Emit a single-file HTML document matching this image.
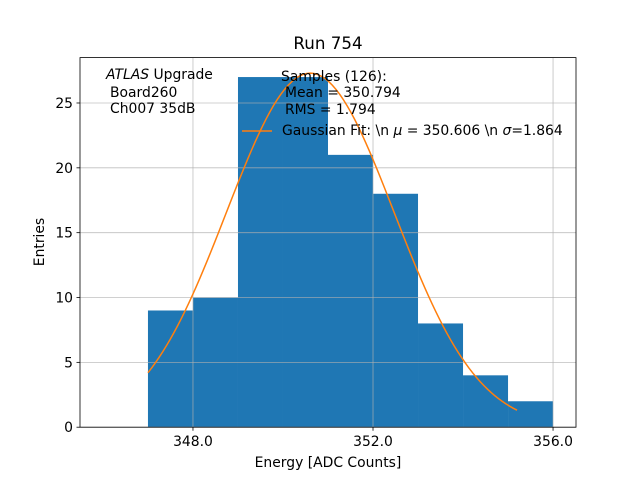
<!DOCTYPE html>
<html><head><meta charset="utf-8"><style>
body{margin:0;background:#fff}
svg{font-family:"DejaVu Sans","Liberation Sans",sans-serif;}
</style></head><body>
<svg id="c" width="640" height="480" viewBox="0 0 640 480">
<rect width="640" height="480" fill="#fff"/>
<g id="bars"></g><g id="grid"></g><g id="fit"></g><g id="axes"></g>
<text x="328" y="49" font-size="16.7" text-anchor="middle">Run 754</text>
<text x="328" y="467" font-size="13.9" text-anchor="middle">Energy [ADC Counts]</text>
<text transform="translate(44,242) rotate(-90)" font-size="13.9" text-anchor="middle">Entries</text>
<g font-size="13.9">
<text x="106" y="79"><tspan font-style="italic">ATLAS</tspan> Upgrade</text>
<text x="110" y="97">Board260</text>
<text x="110" y="113">Ch007 35dB</text>
</g>
<g font-size="13.9">
<text x="281" y="81">Samples (126):</text>
<text x="285" y="97">Mean = 350.794</text>
<text x="285" y="114">RMS = 1.794</text>
<line x1="242" y1="131" x2="272" y2="131" stroke="#ff7f0e" stroke-width="1.5"/>
<text x="282" y="135">Gaussian Fit: \n <tspan font-style="italic">μ</tspan> = 350.606 \n <tspan font-style="italic">σ</tspan>=1.864</text>
</g>
</svg>
<script>
const binEdges=[347,348,349,350,351,352,353,354,355];
const counts=[9,10,27,27,21,18,8,4,2];
const xTicks=[348,352,356];
const xTickLabels=["348.0","352.0","356.0"];
const yTicks=[0,5,10,15,20,25];
const fitMu=[350.606];
const fitSigma=[1.864];
const fitAmp=[27.3];
const fitRange=[347,355.2];

const L=80,R=576,T=57.6,B=427.2;
const xmin=345.49,xmax=356.51,ymin=0,ymax=28.5;
const X=v=>L+(v-xmin)/(xmax-xmin)*(R-L);
const Y=v=>B-(v-ymin)/(ymax-ymin)*(B-T);
const NS="http://www.w3.org/2000/svg";
function mk(t,a,p){const e=document.createElementNS(NS,t);for(const k in a)e.setAttribute(k,a[k]);p.appendChild(e);return e;}
const gb=document.getElementById('bars');
counts.forEach((c,i)=>{
 const r=mk('rect',{x:X(binEdges[i]),y:Y(c),width:X(binEdges[i]+1)-X(binEdges[i]),height:Y(0)-Y(c),fill:'#1f77b4'},gb);
 
 
});
const gg=document.getElementById('grid');
xTicks.forEach(t=>{const l=mk('line',{x1:X(t),x2:X(t),y1:T,y2:B,stroke:'#b0b0b0','stroke-width':0.8,opacity:0.8},gg);
 
 });
yTicks.forEach(t=>{const l=mk('line',{x1:L,x2:R,y1:Y(t),y2:Y(t),stroke:'#b0b0b0','stroke-width':0.8,opacity:0.8},gg);
 
 });
const gf=document.getElementById('fit');
let pts=[];
for(let i=0;i<=100;i++){const x=fitRange[0]+(fitRange[1]-fitRange[0])*i/100;
 const y=fitAmp[0]*Math.exp(-Math.pow(x-fitMu[0],2)/(2*fitSigma[0]*fitSigma[0]));
 pts.push(X(x).toFixed(2)+','+Y(y).toFixed(2));}
const pl=mk('polyline',{points:pts.join(' '),fill:'none',stroke:'#ff7f0e','stroke-width':1.5},gf);


const ga=document.getElementById('axes');
const fr=mk('rect',{x:L,y:T,width:R-L,height:B-T,fill:'none',stroke:'#000','stroke-width':0.8},ga);


xTicks.forEach((t,i)=>{mk('line',{x1:X(t),x2:X(t),y1:B,y2:B+3.5,stroke:'#000','stroke-width':0.8},ga);
 const tx=mk('text',{x:X(t),y:B+19,'font-size':13.9,'text-anchor':'middle'},ga);tx.textContent=xTickLabels[i];
 
 });
yTicks.forEach(t=>{mk('line',{x1:L-3.5,x2:L,y1:Y(t),y2:Y(t),stroke:'#000','stroke-width':0.8},ga);
 const tx=mk('text',{x:L-7,y:Y(t)+5,'font-size':13.9,'text-anchor':'end'},ga);tx.textContent=t;
 
 });
</script>
</body></html>
